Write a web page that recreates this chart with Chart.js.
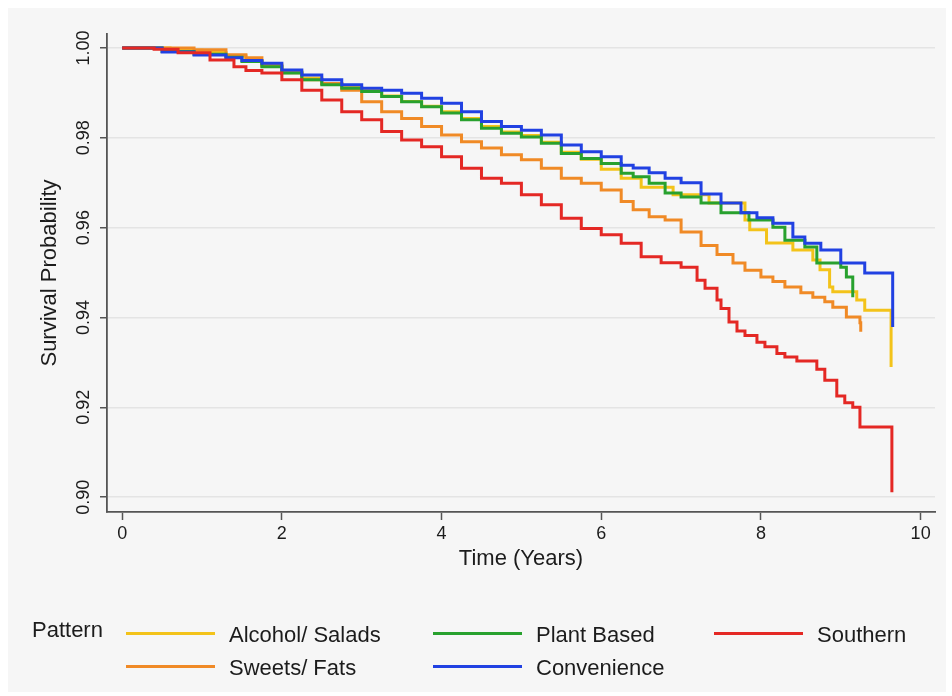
<!DOCTYPE html>
<html>
<head>
<meta charset="utf-8">
<script src="https://cdn.jsdelivr.net/npm/chart.js@4.4.1/dist/chart.umd.min.js"></script>
<style>
  html, body { margin: 0; padding: 0; background: #ffffff; }
  #painel { position: absolute; left: 8px; top: 8px; width: 938px; height: 684px; background: #f6f6f6; }
  #grafico { position: absolute; left: 0; top: 0; width: 952px; height: 696px; }
  #legenda { position: absolute; left: 0; top: 0; width: 952px; height: 696px; pointer-events: none;
    font-family: "Liberation Sans", Arial, Helvetica, sans-serif; font-size: 22px; color: #1c1c1c; }
  .leg-linha { position: absolute; width: 89px; height: 3px; }
  .leg-texto { position: absolute; white-space: nowrap; line-height: 26px; }
</style>
</head>
<body>
<div id="painel"></div>
<div id="grafico"><canvas id="myChart" width="952" height="696"></canvas></div>
<div id="legenda"></div>
<script>
var nomes = ["Alcohol/ Salads", "Sweets/ Fats", "Plant Based", "Convenience", "Southern"];
var cores = ["#f3c31a", "#f08a26", "#28a12e", "#2141e2", "#e42824"];

var tempoAlcool = [0, 0.4, 0.6, 1.0, 1.3, 1.55, 1.75, 2.0, 2.25, 2.5, 2.75, 3.0, 3.25, 3.5, 3.75, 4.0, 4.25, 4.5, 4.75, 5.0, 5.25, 5.5, 5.75, 6.0, 6.25, 6.5, 6.9, 7.35, 7.8, 7.86, 8.07, 8.4, 8.65, 8.74, 8.86, 8.9, 9.2, 9.3, 9.63];
var alcool = [1, 1, 0.9995, 0.9990, 0.9982, 0.9972, 0.9960, 0.9947, 0.9933, 0.9921, 0.9912, 0.9905, 0.9893, 0.9881, 0.9870, 0.9858, 0.9843, 0.9825, 0.9813, 0.9805, 0.9790, 0.9768, 0.9752, 0.9730, 0.9710, 0.9690, 0.9673, 0.9655, 0.9617, 0.9595, 0.9566, 0.9550, 0.9528, 0.9506, 0.9468, 0.9457, 0.9439, 0.9416, 0.9290];

var tempoDoces = [0, 0.4, 0.9, 1.3, 1.55, 1.75, 2.0, 2.25, 2.5, 2.75, 3.0, 3.25, 3.5, 3.75, 4.0, 4.25, 4.5, 4.75, 5.0, 5.25, 5.5, 5.75, 6.0, 6.25, 6.4, 6.6, 6.8, 7.0, 7.25, 7.45, 7.65, 7.8, 8.0, 8.15, 8.3, 8.5, 8.65, 8.8, 8.9, 9.07, 9.24, 9.25];
var doces = [1, 1, 0.9996, 0.9985, 0.9978, 0.9962, 0.9945, 0.9929, 0.9921, 0.9906, 0.9880, 0.9858, 0.9843, 0.9825, 0.9806, 0.9791, 0.9777, 0.9762, 0.9751, 0.9732, 0.9710, 0.9699, 0.9684, 0.9658, 0.9640, 0.9624, 0.9617, 0.9590, 0.9560, 0.9540, 0.9521, 0.9505, 0.9490, 0.9480, 0.9468, 0.9455, 0.9445, 0.9435, 0.9423, 0.9401, 0.9388, 0.9368];

var tempoPlantas = [0, 0.4, 0.5, 0.9, 1.3, 1.5, 1.75, 2.0, 2.25, 2.5, 2.75, 3.0, 3.25, 3.5, 3.75, 4.0, 4.25, 4.5, 4.75, 5.0, 5.25, 5.5, 5.75, 6.0, 6.25, 6.4, 6.6, 6.8, 7.0, 7.25, 7.5, 7.85, 8.15, 8.3, 8.55, 8.7, 9.0, 9.07, 9.15];
var plantas = [1, 1, 0.9992, 0.9986, 0.9979, 0.9970, 0.9958, 0.9944, 0.9929, 0.9918, 0.9910, 0.9903, 0.9892, 0.9880, 0.9869, 0.9855, 0.9840, 0.9821, 0.9810, 0.9802, 0.9788, 0.9765, 0.9754, 0.9743, 0.9721, 0.9713, 0.9699, 0.9677, 0.9668, 0.9655, 0.9633, 0.9617, 0.9601, 0.9572, 0.9557, 0.9521, 0.9512, 0.9490, 0.9445];

var tempoConveniencia = [0, 0.39, 0.5, 0.9, 1.3, 1.5, 1.75, 2.0, 2.25, 2.5, 2.75, 3.0, 3.25, 3.5, 3.75, 4.0, 4.25, 4.5, 4.75, 5.0, 5.25, 5.5, 5.75, 6.0, 6.25, 6.4, 6.6, 6.8, 7.0, 7.25, 7.5, 7.75, 7.95, 8.15, 8.4, 8.55, 8.75, 9.0, 9.3, 9.65];
var conveniencia = [1, 1, 0.9991, 0.9984, 0.9978, 0.9972, 0.9966, 0.9951, 0.9940, 0.9929, 0.9918, 0.9910, 0.9906, 0.9899, 0.9888, 0.9877, 0.9858, 0.9836, 0.9825, 0.9817, 0.9806, 0.9784, 0.9769, 0.9758, 0.9739, 0.9733, 0.9722, 0.9710, 0.9700, 0.9675, 0.9655, 0.9633, 0.9622, 0.9610, 0.9579, 0.9565, 0.9550, 0.9521, 0.9499, 0.9379];

var tempoSul = [0, 0.4, 0.7, 1.1, 1.4, 1.55, 1.75, 2.0, 2.25, 2.5, 2.75, 3.0, 3.25, 3.5, 3.75, 4.0, 4.25, 4.5, 4.75, 5.0, 5.25, 5.5, 5.75, 6.0, 6.25, 6.5, 6.75, 7.0, 7.2, 7.3, 7.45, 7.5, 7.6, 7.7, 7.8, 7.95, 8.05, 8.2, 8.3, 8.45, 8.7, 8.8, 8.95, 9.05, 9.15, 9.24, 9.64];
var sul = [1, 0.9997, 0.9989, 0.9973, 0.9958, 0.9950, 0.9944, 0.9929, 0.9906, 0.9884, 0.9858, 0.9840, 0.9814, 0.9795, 0.9780, 0.9758, 0.9732, 0.9710, 0.9699, 0.9673, 0.9651, 0.9621, 0.9598, 0.9584, 0.9565, 0.9535, 0.9522, 0.9512, 0.9483, 0.9465, 0.9439, 0.9420, 0.9390, 0.9370, 0.9360, 0.9345, 0.9335, 0.9320, 0.9312, 0.9303, 0.9285, 0.9260, 0.9225, 0.9210, 0.9200, 0.9156, 0.9011];

var ticksX = [0, 2, 4, 6, 8, 10];
var ticksY = [0.90, 0.92, 0.94, 0.96, 0.98, 1.00];

var tempos = [tempoAlcool, tempoDoces, tempoPlantas, tempoConveniencia, tempoSul];
var valores = [alcool, doces, plantas, conveniencia, sul];
var ordem = [4, 3, 2, 1, 0];
var fonte = '"Liberation Sans", Arial, Helvetica, sans-serif';

function montarPontos(t, s) {
  var pontos = [];
  for (var i = 0; i < t.length; i++) {
    pontos.push({ x: t[i], y: s[i] });
  }
  return pontos;
}

var datasets = [];
for (var i = 0; i < nomes.length; i++) {
  datasets.push({
    label: nomes[i],
    data: montarPontos(tempos[i], valores[i]),
    borderColor: cores[i],
    borderWidth: 3,
    pointRadius: 0,
    stepped: true,
    fill: false,
    order: ordem[i],
  });
}

// rotulos do eixo y girados, como no Stata
var rotulosY = {
  id: "rotulosY",
  afterDraw: function (chart) {
    var ctx = chart.ctx;
    var escala = chart.scales.y;
    ctx.save();
    ctx.fillStyle = "#1c1c1c";
    ctx.font = "18px " + fonte;
    ctx.textAlign = "center";
    ctx.textBaseline = "middle";
    for (var i = 0; i < ticksY.length; i++) {
      var y = escala.getPixelForValue(ticksY[i]);
      ctx.save();
      ctx.translate(84, y);
      ctx.rotate(-Math.PI / 2);
      ctx.fillText(ticksY[i].toFixed(2), 0, 0);
      ctx.restore();
    }
    ctx.restore();
  },
};

var ctx = document.getElementById("myChart");
var myChart = new Chart(ctx, {
  type: "line",
  data: { datasets: datasets },
  options: {
    responsive: false,
    animation: false,
    layout: { padding: { top: 34, right: 17, bottom: 104, left: 0 } },
    plugins: { legend: { display: false }, tooltip: { enabled: false } },
    scales: {
      x: {
        type: "linear",
        min: -0.19,
        max: 10.18,
        afterBuildTicks: function (escala) {
          escala.ticks = ticksX.map(function (v) { return { value: v }; });
        },
        afterFit: function (escala) { escala.height = 80; },
        grid: { drawOnChartArea: false, tickLength: 8, tickColor: "#555", tickWidth: 1.5 },
        border: { color: "#555", width: 1.8 },
        ticks: { color: "#1c1c1c", font: { family: fonte, size: 18 }, padding: 3, maxRotation: 0 },
        title: { display: true, text: "Time (Years)", color: "#1c1c1c", font: { family: fonte, size: 22 }, padding: { top: 0, bottom: 20 } },
      },
      y: {
        type: "linear",
        min: 0.8967,
        max: 1.0031,
        afterBuildTicks: function (escala) {
          escala.ticks = ticksY.map(function (v) { return { value: v }; });
        },
        afterFit: function (escala) { escala.width = 107; },
        grid: { color: "#e4e4e4", lineWidth: 1.5, tickLength: 7, tickColor: "#555", tickWidth: 1.5 },
        border: { color: "#555", width: 1.8 },
        ticks: { display: false },
        title: { display: true, text: "Survival Probability", color: "#1c1c1c", font: { family: fonte, size: 22 }, padding: { top: 37, bottom: 0 } },
      },
    },
  },
  plugins: [rotulosY],
});

// legenda montada a partir dos datasets
var legenda = document.getElementById("legenda");
var titulo = document.createElement("div");
titulo.className = "leg-texto";
titulo.style.left = "32px";
titulo.style.top = "617px";
titulo.textContent = "Pattern";
legenda.appendChild(titulo);

var colunasX = [126, 433, 714];
var linhasY = [633, 666];
for (var i = 0; i < myChart.data.datasets.length; i++) {
  var col = Math.floor(i / 2);
  var lin = i % 2;
  var linha = document.createElement("div");
  linha.className = "leg-linha";
  linha.style.background = myChart.data.datasets[i].borderColor;
  linha.style.left = colunasX[col] + "px";
  linha.style.top = (linhasY[lin] - 1.5) + "px";
  legenda.appendChild(linha);
  var texto = document.createElement("div");
  texto.className = "leg-texto";
  texto.style.left = (colunasX[col] + 103) + "px";
  texto.style.top = (linhasY[lin] - 11) + "px";
  texto.textContent = myChart.data.datasets[i].label;
  legenda.appendChild(texto);
}
</script>
</body>
</html>
